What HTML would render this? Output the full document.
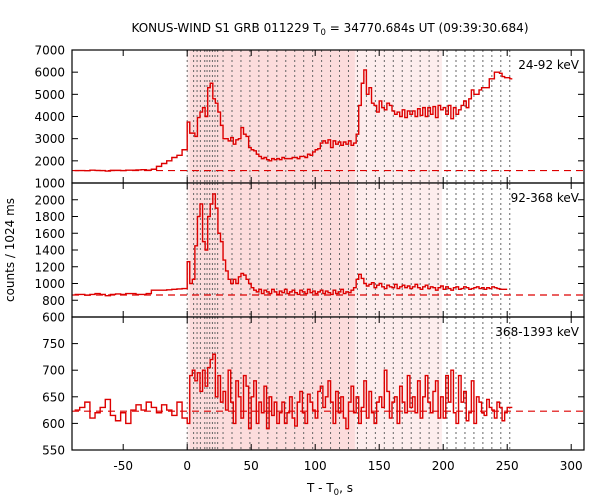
<!DOCTYPE html>
<html><head><meta charset="utf-8"><style>
body{margin:0;background:#fff;}
svg{display:block;font-family:"DejaVu Sans","Liberation Sans",sans-serif;}
</style></head><body>
<svg id="chart" width="600" height="500" viewBox="0 0 600 500" xmlns="http://www.w3.org/2000/svg">
<text x="330" y="32" text-anchor="middle" font-size="12">KONUS-WIND S1 GRB 011229 T<tspan font-size="8.5" dy="3">0</tspan><tspan dy="-3"> = 34770.684s UT (09:39:30.684)</tspan></text>
<text transform="translate(14,250) rotate(-90)" text-anchor="middle" font-size="12">counts / 1024 ms</text>
<text x="330" y="492" text-anchor="middle" font-size="12">T - T<tspan font-size="8.5" dy="3">0</tspan><tspan dy="-3">, s</tspan></text>
<g id="plots"></g>
</svg>
<script>
// ---- data ----
const preStart = -88, preWidth = 4;     // pre-burst bins (s)
const postStart = 0, postWidth = 2;     // burst bins (s)
const xTicks = [-50,0,50,100,150,200,250,300];
const dividers = [0,5,7.7,10.3,13.7,15.5,17.6,19.7,21.7,23.8,28,35,42,49,56,63,70,77,84,91,98,105,112,119,126,133,140,147,154,161,168,175,182,189,196,203,210,217,224,231,238,245,252];
const shadeLight = [0,199];
const shadeDark = [2,131];

const p1Pre = [1560,1560,1555,1580,1565,1560,1540,1570,1570,1560,1580,1580,1590,1600,1580,1620,1750,1880,2000,2150,2250,2500];
const p1Post = [3750,3250,3250,3100,3950,4200,4400,4000,5300,5500,4800,4600,4200,3600,3000,3000,2900,3050,2750,2950,3000,3500,3200,3100,2600,2500,2450,2300,2200,2100,2150,2050,2000,2100,2050,2100,2050,2150,2100,2100,2100,2150,2150,2100,2200,2200,2150,2300,2250,2400,2500,2550,2800,2900,2800,2950,2600,2900,2750,2850,2700,2850,2750,2900,2700,2800,3200,4500,5500,6100,5000,5300,4600,4500,4200,4700,4400,4300,4600,4500,4250,4100,4200,4000,4300,3950,4250,4100,4250,4000,4350,4050,4400,4000,4400,4100,4450,3950,4500,4300,4400,4100,4500,3900,4400,4100,4300,4500,4700,4400,4800,5200,5000,5000,5200,5300,5300,5300,5700,5700,6000,6000,5950,5800,5750,5750,5700];
const p2Pre = [870,870,860,870,880,870,855,870,875,870,880,880,870,870,880,920,920,920,925,930,935,940];
const p2Post = [1260,1000,1050,1450,1800,1950,1500,1400,1800,1950,2070,1900,1600,1500,1280,1150,1050,1000,1050,1000,1080,1120,1100,1050,1000,950,920,900,930,880,920,900,880,930,900,870,910,890,930,880,900,920,890,870,920,900,880,930,890,910,880,900,920,880,910,890,870,920,880,900,930,880,900,890,920,950,1050,1110,1060,1000,970,990,1010,950,980,1000,960,940,980,960,950,990,940,960,980,950,970,940,960,990,950,930,960,980,940,960,950,920,950,970,930,960,940,920,950,960,930,940,960,950,930,940,950,960,940,950,930,950,940,960,950,940,930,930,930];
const p3Pre = [625,630,640,610,620,630,645,615,605,620,600,625,635,625,640,630,620,635,625,615,640,610];
const p3Post = [600,690,700,680,695,660,700,670,705,720,730,650,690,640,660,625,700,640,600,680,650,610,690,670,590,650,680,600,640,620,670,590,650,615,640,600,620,640,600,620,650,610,595,640,660,620,600,655,640,625,610,660,670,630,650,680,640,600,660,620,650,610,590,640,670,620,650,600,630,680,610,660,620,600,640,650,630,700,660,610,640,650,600,670,640,620,690,630,650,620,680,610,650,690,640,620,660,680,610,650,610,690,640,700,620,600,690,640,660,605,620,680,600,650,640,620,615,645,630,625,610,640,630,605,620,630,630];
const baselines = [1560,863,623];
const panelLabels = ["24-92 keV","92-368 keV","368-1393 keV"];
const yTicks1 = [1000,2000,3000,4000,5000,6000,7000];
const yTicks2 = [600,800,1000,1200,1400,1600,1800,2000];
const yTicks3 = [550,600,650,700,750];

// ---- layout ----
const X0 = 72, X1 = 584, TMIN = -90, TMAX = 310;
const xs = t => X0 + (t - TMIN) / (TMAX - TMIN) * (X1 - X0);
const panels = [
  {top:50, bot:183, min:1000, max:7000, pre:p1Pre, post:p1Post, ticks:yTicks1, name:'panel-24-92kev'},
  {top:183, bot:317, min:600, max:2200, pre:p2Pre, post:p2Post, ticks:yTicks2, name:'panel-92-368kev'},
  {top:317, bot:450, min:550, max:800, pre:p3Pre, post:p3Post, ticks:yTicks3, name:'panel-368-1393kev'}
];
const NS = 'http://www.w3.org/2000/svg';
const root = document.getElementById('plots');
function mk(tag, attrs, parent){ const e = document.createElementNS(NS, tag); for (const k in attrs) e.setAttribute(k, attrs[k]); (parent||root).appendChild(e); return e; }

panels.forEach((p, pi) => {
  const ys = v => p.bot - (v - p.min) / (p.max - p.min) * (p.bot - p.top);
  const g = mk('g', {});
  
  
  const sl = mk('rect', {x:xs(shadeLight[0]), y:p.top, width:xs(shadeLight[1])-xs(shadeLight[0]), height:p.bot-p.top, fill:'#fdeded'}, g);
  
  
  const sd = mk('rect', {x:xs(shadeDark[0]), y:p.top, width:xs(shadeDark[1])-xs(shadeDark[0]), height:p.bot-p.top, fill:'#fcdcdc'}, g);
  
  
  dividers.forEach(t => {
    const l = mk('line', {x1:xs(t), x2:xs(t), y1:p.top, y2:p.bot, stroke:'#666', 'stroke-width':1, 'stroke-dasharray':'2,3'}, g);
    
    
  });
  const bl = mk('line', {x1:X0, x2:X1, y1:ys(baselines[pi]), y2:ys(baselines[pi]), stroke:'#d00', 'stroke-width':1.2, 'stroke-dasharray':'7,5'}, g);
  
  
  let d = '';
  const bins = [];
  p.pre.forEach((v, i) => bins.push([preStart + i*preWidth, preStart + (i+1)*preWidth, v]));
  p.post.forEach((v, i) => bins.push([postStart + i*postWidth, postStart + (i+1)*postWidth, v]));
  bins.forEach((b, i) => {
    const x1 = xs(Math.max(b[0], TMIN)), x2 = xs(b[1]), y = ys(b[2]);
    d += (i === 0 ? 'M' : 'L') + x1.toFixed(2) + ',' + y.toFixed(2) + 'L' + x2.toFixed(2) + ',' + y.toFixed(2);
  });
  const path = mk('path', {d:d, fill:'none', stroke:'#d00', 'stroke-width':1.4, 'stroke-linejoin':'miter'}, g);
  
  
  const fr = mk('rect', {x:X0, y:p.top, width:X1-X0, height:p.bot-p.top, fill:'none', stroke:'#000', 'stroke-width':1.2}, g);
  
  
  p.ticks.forEach(v => {
    const y = ys(v);
    mk('line', {x1:X0, x2:X0+6, y1:y, y2:y, stroke:'#000'}, g);
    mk('line', {x1:X1-6, x2:X1, y1:y, y2:y, stroke:'#000'}, g);
    const tx = mk('text', {x:X0-7, y:y+4.5, 'text-anchor':'end', 'font-size':12}, g);
    tx.textContent = v;
    
    
  });
  xTicks.forEach(t => {
    const x = xs(t);
    mk('line', {x1:x, x2:x, y1:p.bot, y2:p.bot-6, stroke:'#000'}, g);
    mk('line', {x1:x, x2:x, y1:p.top, y2:p.top+6, stroke:'#000'}, g);
    if (pi === 2) {
      const tx = mk('text', {x:x, y:p.bot+20, 'text-anchor':'middle', 'font-size':12}, g);
      tx.textContent = t;
      
      
    }
  });
  const lab = mk('text', {x:X1-5, y:p.top+19, 'text-anchor':'end', 'font-size':12}, g);
  lab.textContent = panelLabels[pi];
  
  
});
</script>
</body></html>
